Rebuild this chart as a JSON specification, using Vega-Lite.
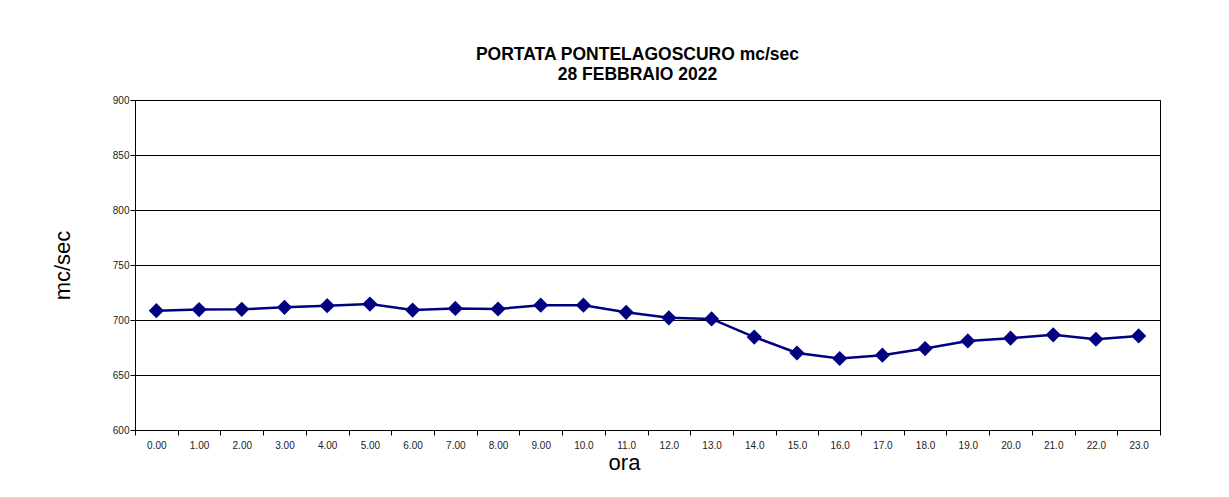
{
  "$schema": "https://vega.github.io/schema/vega-lite/v6.json",
  "autosize": "none",
  "width": 1025,
  "height": 330,
  "padding": {"left": 135, "top": 100, "right": 69, "bottom": 67},
  "background": "white",
  "title": {
    "text": ["PORTATA PONTELAGOSCURO mc/sec", "28 FEBBRAIO 2022"],
    "font": "Liberation Sans",
    "fontSize": 17.5,
    "fontWeight": "bold",
    "color": "black",
    "lineHeight": 20,
    "anchor": "middle",
    "dx": -10,
    "offset": 12
  },
  "data": {
    "values": [
      {"ora": "0.00", "portata": 708.5},
      {"ora": "1.00", "portata": 709.5},
      {"ora": "2.00", "portata": 709.7},
      {"ora": "3.00", "portata": 711.5},
      {"ora": "4.00", "portata": 713},
      {"ora": "5.00", "portata": 714.5},
      {"ora": "6.00", "portata": 709},
      {"ora": "7.00", "portata": 710.5},
      {"ora": "8.00", "portata": 710},
      {"ora": "9.00", "portata": 713.5},
      {"ora": "10.0", "portata": 713.5},
      {"ora": "11.0", "portata": 707},
      {"ora": "12.0", "portata": 702},
      {"ora": "13.0", "portata": 701},
      {"ora": "14.0", "portata": 684.5},
      {"ora": "15.0", "portata": 670},
      {"ora": "16.0", "portata": 665},
      {"ora": "17.0", "portata": 668},
      {"ora": "18.0", "portata": 674},
      {"ora": "19.0", "portata": 681},
      {"ora": "20.0", "portata": 683.5},
      {"ora": "21.0", "portata": 686.5},
      {"ora": "22.0", "portata": 682.5},
      {"ora": "23.0", "portata": 685.5}
    ]
  },
  "mark": {
    "type": "line",
    "color": "#000080",
    "strokeWidth": 2.5,
    "point": {"shape": "diamond", "size": 230, "filled": true, "color": "#000080", "opacity": 1}
  },
  "encoding": {
    "x": {
      "field": "ora",
      "type": "ordinal",
      "sort": null,
      "scale": {"type": "band", "paddingInner": 0, "paddingOuter": 0},
      "axis": {
        "title": "ora",
        "titleFont": "Liberation Sans",
        "titleFontSize": 22,
        "titleFontWeight": "normal",
        "titleColor": "black",
        "titlePadding": 2,
        "titleX": 489,
        "labelFont": "Liberation Sans",
        "labelFontSize": 10,
        "labelColor": "#222",
        "labelAngle": 0,
        "labelPadding": 5,
        "tickBand": "extent",
        "tickSize": 5,
        "tickColor": "black",
        "domain": false,
        "grid": false
      }
    },
    "y": {
      "field": "portata",
      "type": "quantitative",
      "scale": {"domain": [600, 900], "nice": false, "zero": false},
      "axis": {
        "title": "mc/sec",
        "titleFont": "Liberation Sans",
        "titleFontSize": 22,
        "titleFontWeight": "normal",
        "titleColor": "black",
        "titlePadding": 38,
        "values": [600, 650, 700, 750, 800, 850, 900],
        "labelFont": "Liberation Sans",
        "labelFontSize": 10,
        "labelColor": "#222",
        "labelPadding": 1,
        "tickSize": 5,
        "tickColor": "black",
        "domainColor": "black",
        "gridColor": "black",
        "gridOpacity": 1,
        "grid": true
      }
    }
  },
  "config": {
    "view": {"stroke": "black", "strokeWidth": 1}
  }
}
